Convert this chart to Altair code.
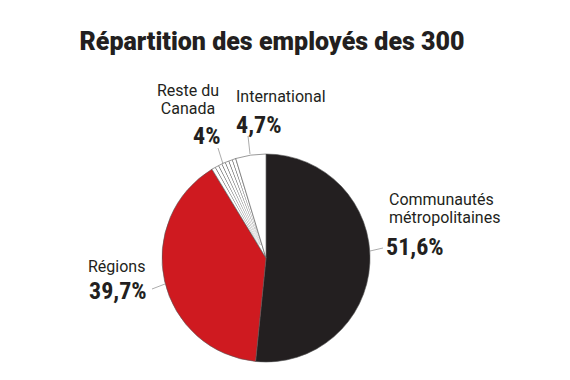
import altair as alt
import pandas as pd

# ---- data ----
categories = ["Communautés métropolitaines", "Régions", "Reste du Canada", "International"]
shares = [51.6, 39.7, 4.0, 4.7]
value_labels = ["51,6%", "39,7%", "4%", "4,7%"]
colors = ["#231f20", "#cf1a20", "#ffffff", "#ffffff"]

# cumulative start / end of each slice (percent of circle)
starts, ends, acc = [], [], 0.0
for s in shares:
    starts.append(acc)
    acc += s
    ends.append(acc)
slices = pd.DataFrame({"cat": categories, "start": starts, "end": ends})

# hatch stripes inside the "Reste du Canada" slice
h_start, h_end = starts[2], ends[2]
n_lines = 6
step = (h_end - h_start) / (n_lines + 1)
hatch = pd.DataFrame({
    "start": [h_start + step * (k + 1) - 0.04 for k in range(n_lines)],
    "end": [h_start + step * (k + 1) + 0.04 for k in range(n_lines)],
})

CX, CY, R = 258, 250, 104
theta_scale = alt.Scale(domain=[0, 100], range=[0, 6.283185307])

pie = alt.Chart(slices).mark_arc(outerRadius=R, stroke="#555", strokeWidth=0.6).encode(
    theta=alt.Theta("start:Q", scale=theta_scale, stack=None),
    theta2="end:Q",
    color=alt.Color("cat:N", scale=alt.Scale(domain=categories, range=colors), legend=None),
    x=alt.value(CX), y=alt.value(CY),
)

hatch_layer = alt.Chart(hatch).mark_arc(outerRadius=R - 0.5, innerRadius=14, color="#3a3a3a").encode(
    theta=alt.Theta("start:Q", scale=theta_scale, stack=None),
    theta2="end:Q",
    x=alt.value(CX), y=alt.value(CY),
)

# ---- text ----
SANS = "Roboto, 'Noto Sans', sans-serif"
NUM = "'Roboto Condensed', 'Noto Sans Condensed', Roboto, sans-serif"
TXT = "#231f20"

def txt(text, x, y, size, font, weight="normal", align="left"):
    return alt.Chart(pd.DataFrame({"t": [text]})).mark_text(
        align=align, baseline="alphabetic", fontSize=size, font=font,
        fontWeight=weight, color=TXT,
    ).encode(text="t:N", x=alt.value(x), y=alt.value(y))

def rule(x1, y1, x2, y2):
    return alt.Chart(pd.DataFrame({"a": [0]})).mark_rule(color="#888", strokeWidth=0.7).encode(
        x=alt.value(x1), y=alt.value(y1), x2=alt.value(x2), y2=alt.value(y2))

texts = [
    txt("Répartition des employés des 300", 264, 42, 25, SANS, 900, "center"),
    txt("Communautés", 381, 197, 16, SANS),
    txt("métropolitaines", 381, 215, 16, SANS),
    txt(value_labels[0], 378, 247, 24, NUM, "bold"),
    txt("Régions", 80, 264, 16, SANS),
    txt(value_labels[1], 81, 291, 24, NUM, "bold"),
    txt("Reste du", 180, 88, 16, SANS, "normal", "center"),
    txt("Canada", 180, 106, 16, SANS, "normal", "center"),
    txt(value_labels[2], 185, 136, 24, NUM, "bold"),
    txt("International", 228, 94, 16, SANS),
    txt(value_labels[3], 228, 125, 24, NUM, "bold"),
]

rules = [
    rule(362, 243, 375, 240),
    rule(144, 281, 157, 276),
    rule(215, 156, 210, 140),
    rule(242, 146, 240, 128),
]

chart = alt.layer(pie, hatch_layer, *rules, *texts).properties(
    width=550, height=356,
    autosize=alt.AutoSizeParams(type="none"),
    padding=0,
    background="white",
).configure_view(stroke=None, strokeWidth=0)

chart.save("out.html", embed_options={"renderer": "svg", "actions": False})
